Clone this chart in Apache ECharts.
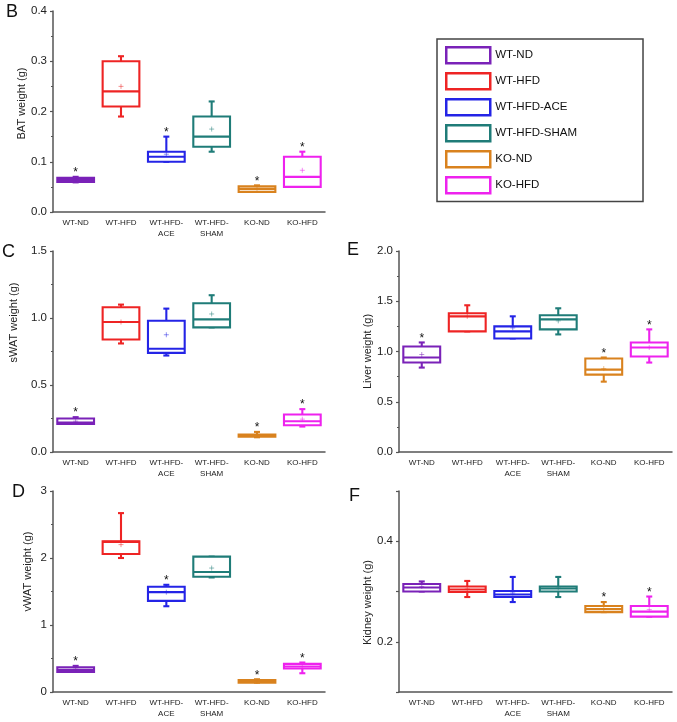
<!DOCTYPE html>
<html>
<head>
<meta charset="utf-8">
<script src="https://cdn.jsdelivr.net/npm/echarts@6/dist/echarts.min.js"></script>
<style>
html,body{margin:0;padding:0;background:#fff;}
#chart{width:677px;height:722px;}
</style>
</head>
<body>
<div id="chart"></div>
<script>
// ---------- data ----------
const groups = ['WT-ND', 'WT-HFD', 'WT-HFD-ACE', 'WT-HFD-SHAM', 'KO-ND', 'KO-HFD'];
const tickLabels = ['WT-ND', 'WT-HFD', 'WT-HFD-\nACE', 'WT-HFD-\nSHAM', 'KO-ND', 'KO-HFD'];
const groupColors = ['#7A22B8', '#EE2424', '#2424E6', '#1F7C78', '#D9821E', '#EE22EE'];

// [min, Q1, median, Q3, max]
const batStats = [[0.059,0.060,0.064,0.068,0.070],[0.19,0.21,0.24,0.30,0.31],[0.10,0.10,0.11,0.12,0.15],[0.12,0.13,0.15,0.19,0.22],[0.040,0.040,0.046,0.051,0.053],[0.05,0.05,0.07,0.11,0.12]];
const batMean = [0.065, 0.25, 0.115, 0.165, 0.047, 0.083];
const batStar = [1, 0, 1, 0, 1, 1];

const swatStats = [[0.21,0.21,0.22,0.25,0.26],[0.81,0.84,0.97,1.08,1.10],[0.72,0.74,0.77,0.98,1.07],[0.93,0.93,0.99,1.11,1.17],[0.11,0.115,0.12,0.13,0.15],[0.19,0.20,0.23,0.28,0.32]];
const swatMean = [0.23, 0.97, 0.875, 1.03, 0.125, 0.245];
const swatStar = [1, 0, 0, 0, 1, 1];

const vwatStats = [[0.30,0.30,0.33,0.37,0.39],[2.00,2.06,2.24,2.25,2.67],[1.28,1.36,1.49,1.57,1.60],[1.71,1.72,1.79,2.02,2.02],[0.14,0.14,0.16,0.18,0.19],[0.28,0.35,0.38,0.42,0.44]];
const vwatMean = [0.34, 2.2, 1.49, 1.85, 0.16, 0.38];
const vwatStar = [1, 0, 1, 0, 1, 1];

const liverStats = [[0.84,0.89,0.94,1.05,1.09],[1.20,1.20,1.35,1.38,1.46],[1.13,1.13,1.20,1.25,1.35],[1.17,1.22,1.32,1.36,1.43],[0.70,0.77,0.82,0.93,0.94],[0.89,0.95,1.04,1.09,1.22]];
const liverMean = [0.97, 1.35, 1.235, 1.305, 0.83, 1.04];
const liverStar = [1, 0, 0, 0, 1, 1];

const kidneyStats = [[0.300,0.300,0.308,0.315,0.320],[0.289,0.299,0.304,0.310,0.321],[0.279,0.289,0.294,0.301,0.329],[0.289,0.300,0.306,0.310,0.329],[0.259,0.259,0.265,0.271,0.279],[0.250,0.250,0.260,0.271,0.290]];
const kidneyMean = [0.310, 0.305, 0.297, 0.307, 0.266, 0.264];
const kidneyStar = [0, 0, 0, 0, 1, 1];

// ---------- chart ----------
const FONT = '"Liberation Sans", Arial, sans-serif';
const chart = echarts.init(document.getElementById('chart'), null, {renderer: 'canvas'});

const panels = [
  {letter:'B', lx:6,  ly:3,   stats:batStats,    mean:batMean,    star:batStar,    name:'BAT weight (g)',    min:0,   max:0.4, interval:0.1, fmt:v=>v.toFixed(1), grid:{left:53, top:11, width:272, height:201}, gap:26, pad:[0,0,0,16]},
  {letter:'C', lx:2,  ly:243, stats:swatStats,   mean:swatMean,   star:swatStar,   name:'sWAT weight (g)',   min:0,   max:1.5, interval:0.5, fmt:v=>v.toFixed(1), grid:{left:53, top:251, width:272, height:201}, gap:34, pad:[0,0,0,58]},
  {letter:'D', lx:12, ly:483, stats:vwatStats,   mean:vwatMean,   star:vwatStar,   name:'vWAT weight (g)',   min:0,   max:3,   interval:1,   fmt:v=>v.toFixed(0), grid:{left:53, top:491, width:272, height:201}, gap:20, pad:[0,0,0,40]},
  {letter:'E', lx:347,ly:241, stats:liverStats,  mean:liverMean,  star:liverStar,  name:'Liver weight (g)',  min:0,   max:2,   interval:0.5, fmt:v=>v.toFixed(1), grid:{left:399, top:251, width:273, height:201}, gap:25, pad:[0,0,0,0]},
  {letter:'F', lx:349,ly:487, stats:kidneyStats, mean:kidneyMean, star:kidneyStar, name:'Kidney weight (g)', min:0.1, max:0.5, interval:0.1, fmt:v=>(Math.abs(v-0.2)<1e-6||Math.abs(v-0.4)<1e-6)?v.toFixed(1):'', grid:{left:399, top:491, width:273, height:201}, gap:25, pad:[0,22,0,0], noMinor:true}
];

const grids = [], xAxes = [], yAxes = [], series = [], titles = [];
const axisColor = '#555';

function renderBox(params, api) {
  const ci = api.value(0);
  const c = groupColors[ci];
  const band = api.size([1, 0])[0];
  const bw = band * 0.81;
  const capW = 6;
  const pMin = api.coord([ci, api.value(1)]);
  const pQ1 = api.coord([ci, api.value(2)]);
  const pMed = api.coord([ci, api.value(3)]);
  const pQ3 = api.coord([ci, api.value(4)]);
  const pMax = api.coord([ci, api.value(5)]);
  const pMean = api.coord([ci, api.value(6)]);
  const star = api.value(7);
  const x = pMed[0];
  const lw = 2.1;
  const ls = {stroke: c, lineWidth: lw, fill: null};
  const children = [
    {type:'line', shape:{x1:x, y1:pQ3[1], x2:x, y2:pMax[1]}, style:ls},
    {type:'line', shape:{x1:x, y1:pQ1[1], x2:x, y2:pMin[1]}, style:ls},
    {type:'line', shape:{x1:x-capW/2, y1:pMax[1], x2:x+capW/2, y2:pMax[1]}, style:ls},
    {type:'line', shape:{x1:x-capW/2, y1:pMin[1], x2:x+capW/2, y2:pMin[1]}, style:ls},
    {type:'rect', shape:{x:x-bw/2, y:pQ3[1], width:bw, height:Math.max(pQ1[1]-pQ3[1], 1)}, style:{stroke:c, lineWidth:lw, fill:'#fff'}},
    {type:'line', shape:{x1:x-bw/2, y1:pMed[1], x2:x+bw/2, y2:pMed[1]}, style:ls},
    {type:'line', shape:{x1:x-2.5, y1:pMean[1], x2:x+2.5, y2:pMean[1]}, style:{stroke:c, lineWidth:1, opacity:0.5}},
    {type:'line', shape:{x1:x, y1:pMean[1]-2.5, x2:x, y2:pMean[1]+2.5}, style:{stroke:c, lineWidth:1, opacity:0.5}}
  ];
  if (star) {
    children.push({type:'text', style:{text:'*', x:x, y:pMax[1]-10, fontSize:12, fontFamily:FONT, fill:'#111', align:'center', verticalAlign:'top'}});
  }
  return {type:'group', children: children};
}

panels.forEach((p, i) => {
  grids.push(Object.assign({}, p.grid));
  titles.push({text:p.letter, left:p.lx, top:p.ly, padding:0, textStyle:{fontSize:18, fontWeight:'normal', color:'#111', fontFamily:FONT}});
  xAxes.push({
    type:'category', gridIndex:i, data:tickLabels, boundaryGap:true,
    axisLine:{lineStyle:{color:axisColor, width:1.5}},
    axisTick:{alignWithLabel:true, length:3, lineStyle:{color:axisColor, width:1.2}},
    axisLabel:{fontSize:8, color:'#222', fontFamily:FONT, margin:5, lineHeight:11, interval:0}
  });
  yAxes.push({
    type:'value', gridIndex:i, min:p.min, max:p.max, interval:p.interval,
    name:p.name, nameLocation:'middle', nameGap:p.gap,
    nameTextStyle:{fontSize:11, color:'#222', fontFamily:FONT, padding:p.pad},
    splitLine:{show:false},
    axisLine:{show:true, lineStyle:{color:axisColor, width:1.5}},
    axisTick:{show:true, length:3, lineStyle:{color:axisColor, width:1.2}},
    minorTick:{show:!p.noMinor, splitNumber:2, length:2, lineStyle:{color:axisColor, width:1}},
    axisLabel:{fontSize:11.5, color:'#222', fontFamily:FONT, margin:6, formatter:p.fmt}
  });
  const data = p.stats.map((s, k) => [k, s[0], s[1], s[2], s[3], s[4], p.mean[k], p.star[k]]);
  series.push({
    type:'custom', xAxisIndex:i, yAxisIndex:i, renderItem:renderBox, data:data,
    encode:{x:0, y:[1,2,3,4,5,6]}, clip:false, silent:true
  });
});

// legend entries (empty bar series so the legend shows box outlines)
groups.forEach((g, k) => {
  series.push({
    type:'bar', name:g, xAxisIndex:0, yAxisIndex:0, data:[],
    itemStyle:{color:'#fff', borderColor:groupColors[k], borderWidth:2.5}
  });
});

chart.setOption({
  animation:false,
  backgroundColor:'#fff',
  title:titles,
  grid:grids,
  xAxis:xAxes,
  yAxis:yAxes,
  legend:{
    data:groups.map((g, k) => ({name:g, itemStyle:{color:'#fff', borderColor:groupColors[k], borderWidth:2.5}})),
    orient:'vertical', left:437, top:39, icon:'rect',
    itemWidth:44, itemHeight:16, itemGap:7.5,
    padding:[7, 66, 7, 8],
    borderColor:'#444', borderWidth:1.5,
    textStyle:{fontSize:11.5, color:'#111', fontFamily:FONT},
    selectedMode:false
  },
  series:series
});
</script>
</body>
</html>
